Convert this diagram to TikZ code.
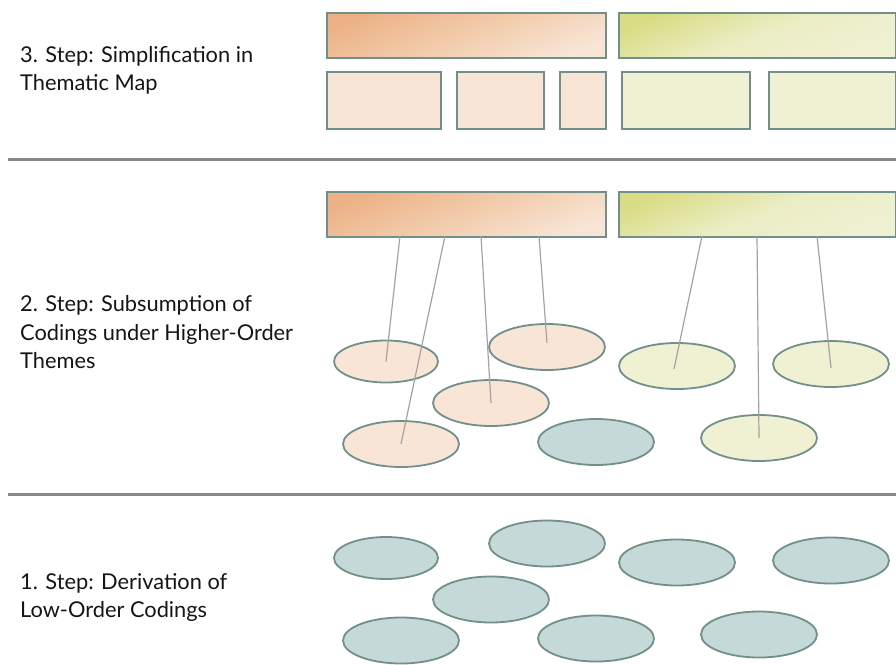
\documentclass[tikz,border=0pt]{standalone}
\usepackage{fontspec}
\setmainfont{Lato}
\usetikzlibrary{shapes.geometric}
\definecolor{edgec}{HTML}{72908A}
\definecolor{orD}{HTML}{ECB286}
\definecolor{orM}{HTML}{F2CCAC}
\definecolor{orL}{HTML}{F8E5D6}
\definecolor{grD}{HTML}{D9DC84}
\definecolor{grM}{HTML}{EBEDC4}
\definecolor{grL}{HTML}{F0F1D3}
\definecolor{tealF}{HTML}{C5D9D8}
\definecolor{connc}{HTML}{A3A3A3}
\definecolor{sepc}{HTML}{888888}
\definecolor{txtc}{HTML}{151515}
\begin{document}
\begin{tikzpicture}[x=1pt,y=-1pt,
  box/.style={draw=edgec, line width=1.8pt, rectangle, inner sep=0pt, anchor=north west},
  obig/.style={box, top color=orD, bottom color=orL, middle color=orM, shading angle=22},
  gbig/.style={box, top color=grD, bottom color=grL, middle color=grM, shading angle=22},
  osmall/.style={box, fill=orL},
  gsmall/.style={box, fill=grL},
  ell/.style={draw=edgec, line width=1.8pt, ellipse, inner sep=0pt, minimum width=116pt, minimum height=46pt},
  oell/.style={ell, fill=orL},
  gell/.style={ell, fill=grL},
  tell/.style={ell, fill=tealF},
  conn/.style={draw=connc, line width=1.2pt},
  sep/.style={draw=sepc, line width=3pt},
  lbl/.style={anchor=base west, inner sep=0pt, text=txtc, font=\fontsize{21.8}{26}\selectfont}]
\useasboundingbox (0,0) rectangle (896,664);

% separators
\draw[sep] (8,159.5) -- (896,159.5);
\draw[sep] (8,494.5) -- (896,494.5);

% labels
\node[lbl] (l3a) at (20,62) {3. Step: Simplification in};
\node[lbl] (l3b) at (20,90) {Thematic Map};
\node[lbl] (l2a) at (20,311.5) {2. Step: Subsumption of};
\node[lbl] (l2b) at (20,340) {Codings under Higher-Order};
\node[lbl] (l2c) at (20,368.5) {Themes};
\node[lbl] (l1a) at (20,589) {1. Step: Derivation of};
\node[lbl] (l1b) at (20,617) {Low-Order Codings};

% section 3
\node[obig, minimum width=279pt, minimum height=45pt] (ob3) at (326,12) {};
\node[gbig, minimum width=277pt, minimum height=45pt] (gb3) at (618,12) {};
\node[osmall, minimum width=114pt, minimum height=57pt] (os1) at (326,71) {};
\node[osmall, minimum width=87pt, minimum height=57pt] (os2) at (456,71) {};
\node[osmall, minimum width=46pt, minimum height=57pt] (os3) at (559,71) {};
\node[gsmall, minimum width=128pt, minimum height=57pt] (gs1) at (621,71) {};
\node[gsmall, minimum width=127pt, minimum height=57pt] (gs2) at (768,71) {};

% section 2
\node[obig, minimum width=279pt, minimum height=45pt] (ob2) at (326,191) {};
\node[gbig, minimum width=277pt, minimum height=45pt] (gb2) at (618,191) {};
\node[oell, minimum width=104pt, minimum height=42pt] (e1) at (386,361.5) {};
\node[oell] (e2) at (547,347) {};
\node[oell] (e3) at (491,403) {};
\node[oell] (e4) at (401,444) {};
\node[tell] (t2) at (596,442) {};
\node[gell] (g1) at (677,366) {};
\node[gell] (g2) at (831,364) {};
\node[gell] (g3) at (759,438) {};

\coordinate (c1) at (400,236);
\coordinate (c2) at (445,236);
\coordinate (c3) at (481,236);
\coordinate (c4) at (539,236);
\coordinate (c5) at (702,236);
\coordinate (c6) at (757,236);
\coordinate (c7) at (817,236);
\draw[conn] (c1) -- (e1.center);
\draw[conn] (c2) -- (e4.center);
\draw[conn] (c3) -- (e3.center);
\draw[conn] (c4) -- ([yshift=4pt]e2.center);
\draw[conn] (c5) -- ([xshift=-3pt,yshift=-3pt]g1.center);
\draw[conn] (c6) -- (g3.center);
\draw[conn] (c7) -- ([yshift=-4pt]g2.center);

% section 1
\node[tell, minimum width=104pt, minimum height=42pt] (f1) at (386,558) {};
\node[tell] (f2) at (547,543.5) {};
\node[tell] (f3) at (491,599.5) {};
\node[tell] (f4) at (401,640.5) {};
\node[tell] (f5) at (596,638.5) {};
\node[tell] (f6) at (677,562.5) {};
\node[tell] (f7) at (831,560.5) {};
\node[tell] (f8) at (759,634.5) {};
\end{tikzpicture}
\end{document}
